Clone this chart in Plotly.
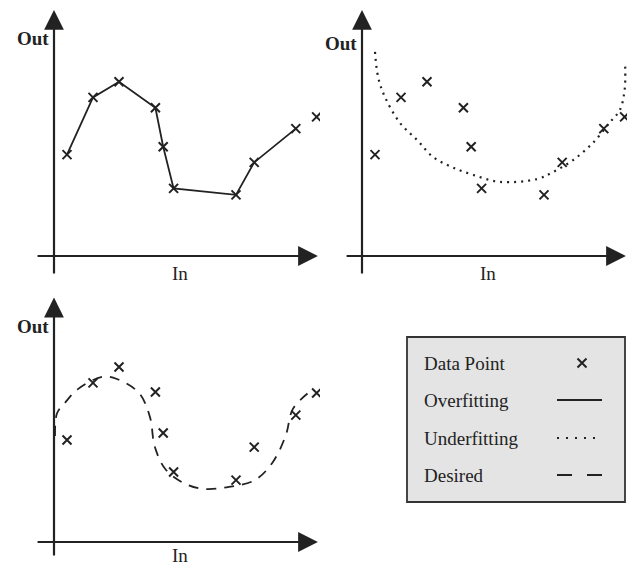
import plotly.graph_objects as go

# ---------------- data (units: In / Out) ----------------
IN = [0.5, 1.5, 2.5, 3.9, 4.2, 4.6, 7.0, 7.7, 9.3, 10.1]
OUT = [3.9, 6.1, 6.7, 5.7, 4.2, 2.6, 2.35, 3.6, 4.9, 5.35]
OUT_P3 = [3.92, 6.12, 6.73, 5.77, 4.19, 2.69, 2.38, 3.65, 4.88, 5.73]

# underfitting curve (panel 2)
UNDER_IN = [0.50, 0.62, 0.88, 1.46, 2.12, 2.73, 3.46, 4.27, 5.31, 6.73, 7.35, 8.12, 8.88, 9.54, 9.92, 10.10, 10.12]
UNDER_OUT = [7.85, 6.88, 6.12, 5.12, 4.46, 3.81, 3.42, 3.12, 2.85, 2.96, 3.23, 3.69, 4.35, 5.15, 5.62, 6.38, 7.42]

# desired curve (panel 3)
DES_IN = [0.04, 0.12, 0.42, 0.92, 1.85, 2.42, 3.27, 3.69, 3.88, 4.31, 5.15, 5.81, 6.73, 7.73, 8.42, 8.92, 9.19, 9.92]
DES_OUT = [4.08, 4.96, 5.35, 5.88, 6.35, 6.27, 5.73, 4.81, 3.65, 2.77, 2.19, 2.04, 2.12, 2.38, 3.08, 4.12, 5.12, 5.85]

LEGEND_LABELS = ["Data Point", "Overfitting", "Underfitting", "Desired"]

W, H = 627, 565
S = 26.0  # px per unit
INK = "#222222"
FONT = "Liberation Serif"

def px(x):
    return x / W

def py(y):
    return 1 - y / H

# panel geometry: (pixel box, origin pixel)
panels = {
    1: dict(box=(0, 0, 320, 290), org=(54, 256)),
    2: dict(box=(320, 0, 627, 290), org=(362, 256)),
    3: dict(box=(0, 290, 320, 565), org=(54, 542)),
}

fig = go.Figure()
layout = dict(width=W, height=H, margin=dict(l=0, r=0, t=0, b=0),
              paper_bgcolor="white", plot_bgcolor="rgba(0,0,0,0)",
              showlegend=False, font=dict(family=FONT, color=INK, size=19))
annotations = []
shapes = []

for k, p in panels.items():
    x0, y0, x1, y1 = p["box"]
    ox, oy = p["org"]
    xs = "" if k == 1 else str(k)
    layout["xaxis" + xs] = dict(domain=[px(x0), px(x1)], range=[(x0 - ox) / S, (x1 - ox) / S],
                                visible=False, anchor="y" + xs)
    layout["yaxis" + xs] = dict(domain=[py(y1), py(y0)], range=[(oy - y1) / S, (oy - y0) / S],
                                visible=False, anchor="x" + xs)

# axis arrows: (panel, x-tail, x-tip, y-tail, y-tip) in units
axis_ext = {1: (-0.69, 10.15, -0.73, 9.46), 2: (-0.65, 10.15, -0.73, 9.46), 3: (-0.69, 10.15, -0.58, 9.4)}
out_pos = {1: 8.38, 2: 8.19, 3: 8.27}
for k, (xt, xh, yt, yh) in axis_ext.items():
    xs = "" if k == 1 else str(k)
    for (hx, hy, tx, ty) in [(xh, 0, xt, 0), (0, yh, 0, yt)]:
        annotations.append(dict(x=hx, y=hy, ax=tx, ay=ty, xref="x" + xs, yref="y" + xs,
                                axref="x" + xs, ayref="y" + xs, text="", showarrow=True,
                                arrowhead=2, arrowsize=1.8, arrowwidth=2.2, arrowcolor=INK, standoff=0))
    annotations.append(dict(x=-0.1, y=out_pos[k], xref="x" + xs, yref="y" + xs, text="<b>Out</b>",
                            showarrow=False, xanchor="right", yanchor="middle",
                            font=dict(size=19, family=FONT, color=INK)))
    annotations.append(dict(x=4.85, y=yt + 0.05, xref="x" + xs, yref="y" + xs, text="In",
                            showarrow=False, xanchor="center", yanchor="middle",
                            font=dict(size=19, family=FONT, color=INK)))

mk = dict(symbol="x-thin", size=9, color=INK, line=dict(width=2, color=INK))

# panel 1: overfitting
fig.add_trace(go.Scatter(x=IN[:-1], y=OUT[:-1], mode="lines", line=dict(color=INK, width=1.8),
                         xaxis="x", yaxis="y"))
fig.add_trace(go.Scatter(x=IN, y=OUT, mode="markers", marker=mk, xaxis="x", yaxis="y"))

# panel 2: underfitting
fig.add_trace(go.Scatter(x=UNDER_IN, y=UNDER_OUT, mode="lines", line_shape="spline",
                         line=dict(color=INK, width=2.2, dash="2px,5px"), xaxis="x2", yaxis="y2"))
fig.add_trace(go.Scatter(x=IN, y=OUT, mode="markers", marker=mk, xaxis="x2", yaxis="y2"))

# panel 3: desired
fig.add_trace(go.Scatter(x=DES_IN, y=DES_OUT, mode="lines", line_shape="spline",
                         line=dict(color=INK, width=1.8, dash="10px,8px"), xaxis="x3", yaxis="y3"))
fig.add_trace(go.Scatter(x=IN, y=OUT_P3, mode="markers", marker=mk, xaxis="x3", yaxis="y3"))

# legend box on a pixel overlay axis
layout["xaxis4"] = dict(domain=[0, 1], range=[0, W], visible=False, anchor="y4")
layout["yaxis4"] = dict(domain=[0, 1], range=[H, 0], visible=False, anchor="x4")
shapes.append(dict(type="rect", xref="x4", yref="y4", x0=407, x1=625, y0=337, y1=502,
                   fillcolor="#e4e4e4", line=dict(color="#333333", width=1.8), layer="below"))
rows = [363, 400, 438, 475]
for lab, yy in zip(LEGEND_LABELS, rows):
    annotations.append(dict(x=422, y=yy, xref="x4", yref="y4", text=lab, showarrow=False,
                            xanchor="left", yanchor="middle", font=dict(size=19, family=FONT, color=INK)))
fig.add_trace(go.Scatter(x=[582], y=[rows[0]], mode="markers", marker=mk, xaxis="x4", yaxis="y4"))
fig.add_trace(go.Scatter(x=[557, 602], y=[rows[1]] * 2, mode="lines", line=dict(color=INK, width=1.8),
                         xaxis="x4", yaxis="y4"))
fig.add_trace(go.Scatter(x=[557, 602], y=[rows[2]] * 2, mode="lines",
                         line=dict(color=INK, width=2.2, dash="2px,7px"), xaxis="x4", yaxis="y4"))
fig.add_trace(go.Scatter(x=[557, 602], y=[rows[3]] * 2, mode="lines",
                         line=dict(color=INK, width=1.8, dash="15px,15px"), xaxis="x4", yaxis="y4"))

layout["annotations"] = annotations
layout["shapes"] = shapes
fig.update_layout(**layout)
fig.update_traces(hoverinfo="skip")
fig.write_html("out.html", config={"displayModeBar": False, "staticPlot": True},
               post_script="document.body.style.margin='0';")
